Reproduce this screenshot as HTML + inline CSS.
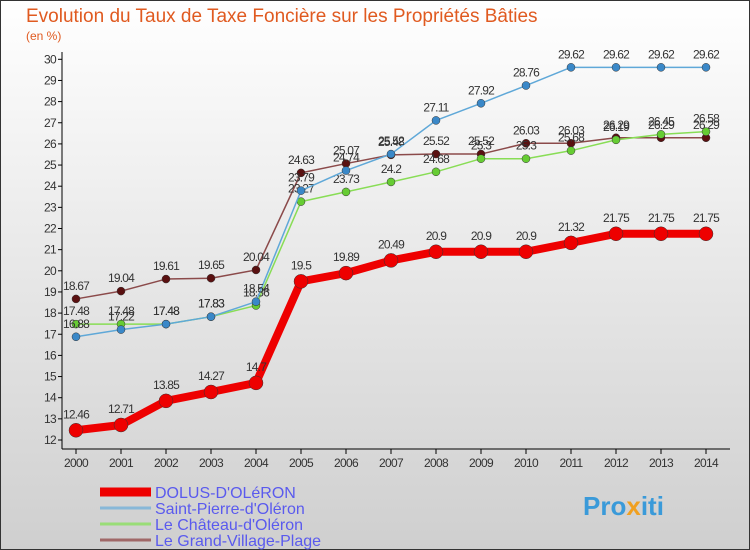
<!DOCTYPE html>
<html><head><meta charset="utf-8"><style>
body{margin:0;}
#wrap{width:750px;height:550px;position:relative;overflow:hidden;font-family:"Liberation Sans",sans-serif;}
</style></head><body>
<div id="wrap">
<svg id="svg" width="750" height="550" xmlns="http://www.w3.org/2000/svg">
<defs><linearGradient id="bg" x1="0" y1="0" x2="0" y2="1"><stop offset="0" stop-color="#ffffff"/><stop offset="1" stop-color="#cfcfcf"/></linearGradient></defs>
<rect x="0.5" y="0.5" width="749" height="549" fill="url(#bg)" stroke="#333"/>
<text x="26" y="22" font-size="19" fill="#e05a20">Evolution du Taux de Taxe Foncière sur les Propriétés Bâties</text>
<text x="26" y="40" font-size="12" fill="#e05a20">(en %)</text>
<g id="axes"></g><g id="series"></g><g id="legend"></g>
<text x="583" y="515" font-size="26" font-weight="bold" fill="#3a9ad9">Pro<tspan fill="#f0a020">x</tspan>iti</text>
</svg>
</div>
<script>
const years=[2000,2001,2002,2003,2004,2005,2006,2007,2008,2009,2010,2011,2012,2013,2014];
const yTicks=[12,13,14,15,16,17,18,19,20,21,22,23,24,25,26,27,28,29,30];
const seriesNames=["DOLUS-D'OLéRON","Saint-Pierre-d'Oléron","Le Château-d'Oléron","Le Grand-Village-Plage"];
const dolus=[12.46,12.71,13.85,14.27,14.7,19.5,19.89,20.49,20.9,20.9,20.9,21.32,21.75,21.75,21.75];
const stPierre=[16.88,17.22,17.48,17.83,18.54,23.79,24.74,25.52,27.11,27.92,28.76,29.62,29.62,29.62,29.62];
const chateau=[17.48,17.48,17.48,17.83,18.36,23.27,23.73,24.2,24.68,25.3,25.3,25.68,26.19,26.45,26.58];
const grandVillage=[18.67,19.04,19.61,19.65,20.04,24.63,25.07,25.48,25.52,25.52,26.03,26.03,26.29,26.29,26.29];
const NS="http://www.w3.org/2000/svg";
const xS=i=>76+i*45;
const yS=v=>440-(v-12)*21.15;
function mk(t,a,p){const e=document.createElementNS(NS,t);for(const k in a)e.setAttribute(k,a[k]);p.appendChild(e);return e;}
const ax=document.getElementById('axes');
let l=mk('line',{x1:62,y1:52,x2:62,y2:449,stroke:'#000'},ax);


l=mk('line',{x1:62,y1:449,x2:730,y2:449,stroke:'#000'},ax);


yTicks.forEach(v=>{const y=yS(v);
 mk('line',{x1:58,y1:y,x2:62,y2:y,stroke:'#000'},ax);
 const t=mk('text',{x:56,y:y+4,'font-size':12,'text-anchor':'end',fill:'#333','letter-spacing':'-0.7'},ax);t.textContent=v;
 
 
});
years.forEach((yr,i)=>{const x=xS(i);
 mk('line',{x1:x,y1:449,x2:x,y2:454,stroke:'#000'},ax);
 const t=mk('text',{x:x,y:467,'font-size':12,'text-anchor':'middle',fill:'#333','letter-spacing':'-0.7'},ax);t.textContent=yr;
 
 
});
const sg=document.getElementById('series');
const defs=[
 {d:grandVillage,c:'#8b4a4a',m:'#5a1010',w:1.5,r:4,name:'grand-village'},
 {d:chateau,c:'#88dd55',m:'#66cc33',w:1.5,r:4,name:'chateau'},
 {d:stPierre,c:'#5fa8d8',m:'#3a88c8',w:1.5,r:4,name:'saint-pierre'},
 {d:dolus,c:'#ee0000',m:'#ee0000',w:8,r:7,name:'dolus'}];
defs.forEach(s=>{
 const g=mk('g',{},sg);
 
 
 const p=mk('polyline',{points:s.d.map((v,i)=>xS(i)+','+yS(v)).join(' '),fill:'none',stroke:s.c,'stroke-width':s.w,'stroke-linejoin':'round'},g);
 
 
 s.d.forEach((v,i)=>{
  const c=mk('circle',{cx:xS(i),cy:yS(v),r:s.r,fill:s.m,stroke:'#333','stroke-width':0.5},g);
  
  
  const t=mk('text',{x:xS(i),y:yS(v)-(s.r+5),'font-size':12,'text-anchor':'middle',fill:'#333','letter-spacing':'-0.8'},g);
  t.textContent=v;
  
  
 });
});
const lg=document.getElementById('legend');
const lc=['#ee0000','#88b8d8','#99dd77','#a06868'],lw=[9,3,3,3];
seriesNames.forEach((n,i)=>{const y=492+i*16;
 const g=mk('g',{},lg);
 
 
 mk('line',{x1:100,y1:y,x2:151,y2:y,stroke:lc[i],'stroke-width':lw[i]},g);
 const t=mk('text',{x:155,y:y+6,'font-size':16,fill:'#5a5aee'},g);t.textContent=n;
});
</script>
</body></html>
